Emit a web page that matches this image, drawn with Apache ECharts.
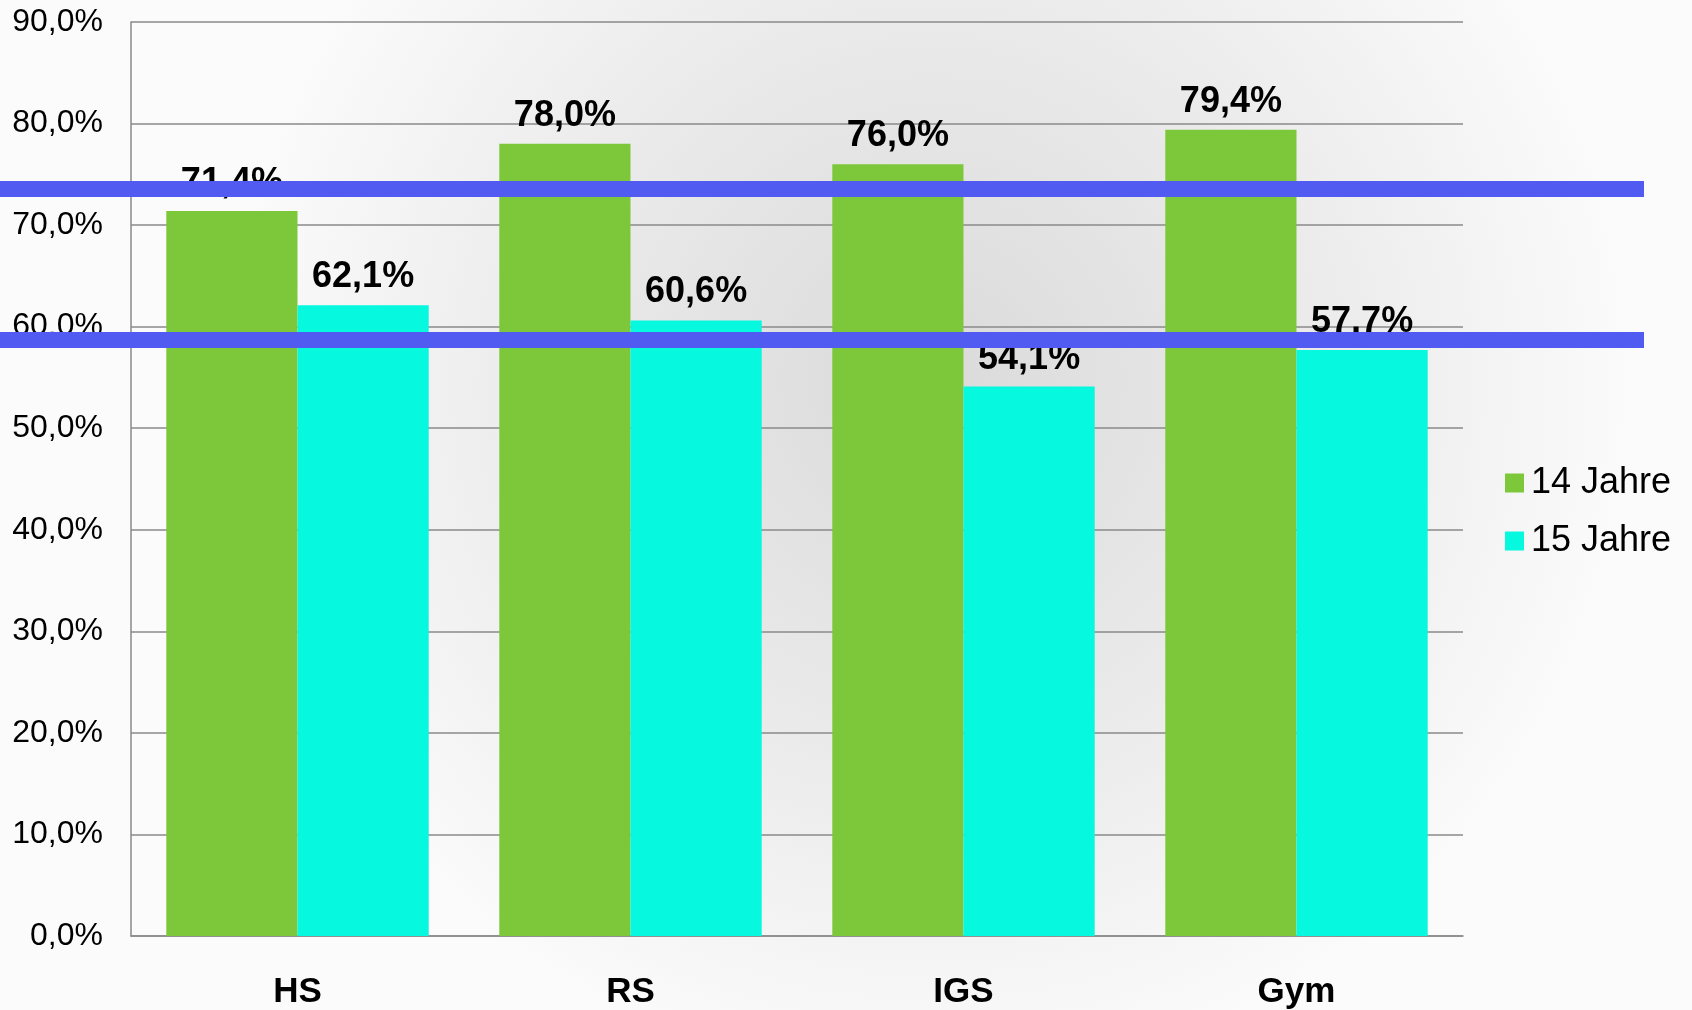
<!DOCTYPE html>
<html>
<head>
<meta charset="utf-8">
<style>
  html, body { margin: 0; padding: 0; background: #fafafa; }
  #chart { width: 1692px; height: 1010px; }
</style>
<script src="https://cdn.jsdelivr.net/npm/echarts@6/dist/echarts.min.js"></script>
</head>
<body>
<div id="chart"></div>
<script>
const categories = ['HS', 'RS', 'IGS', 'Gym']
const seriesNames = ['14 Jahre', '15 Jahre']
const values14 = [71.4, 78.0, 76.0, 79.4]
const values15 = [62.1, 60.6, 54.1, 57.7]
const yTicks = [0, 10, 20, 30, 40, 50, 60, 70, 80, 90]

const fontFamily = 'Liberation Sans, Arial, sans-serif'
const pct = v => v.toFixed(1).replace('.', ',') + '%'

const chart = echarts.init(document.getElementById('chart'))

const barLabel = {
  show: true,
  position: 'top',
  distance: 10,
  color: '#000',
  fontSize: 36,
  fontWeight: 'bold',
  fontFamily: fontFamily,
  formatter: p => pct(p.value)
}

chart.setOption({
  animation: false,
  backgroundColor: {
    type: 'radial',
    x: 0.55, y: 0.38, r: 0.7,
    colorStops: [
      { offset: 0, color: '#dadada' },
      { offset: 0.55, color: '#ebebeb' },
      { offset: 1, color: '#fbfbfb' }
    ]
  },
  grid: { left: 131, right: 229, top: 22, bottom: 74 },
  legend: {
    data: seriesNames,
    orient: 'vertical',
    left: 1505,
    top: 465,
    padding: 0,
    icon: 'rect',
    itemWidth: 19,
    itemHeight: 19,
    itemGap: 22,
    textStyle: { fontSize: 36, color: '#000', fontFamily: fontFamily, padding: [0, 0, 0, 2] }
  },
  xAxis: {
    type: 'category',
    data: categories,
    axisLine: { lineStyle: { color: '#8a8a8a', width: 1.5 } },
    axisTick: { show: false },
    axisLabel: {
      margin: 39,
      color: '#000',
      fontSize: 35,
      fontWeight: 'bold',
      fontFamily: fontFamily
    }
  },
  yAxis: {
    type: 'value',
    min: yTicks[0],
    max: yTicks[yTicks.length - 1],
    interval: 10,
    axisLine: { show: true, lineStyle: { color: '#8a8a8a', width: 1.5 } },
    axisTick: { show: false },
    splitLine: { lineStyle: { color: '#8a8a8a', width: 1.5 } },
    axisLabel: {
      margin: 28,
      color: '#000',
      fontSize: 32,
      fontFamily: fontFamily,
      formatter: v => pct(v)
    }
  },
  series: [
    {
      name: seriesNames[0],
      type: 'bar',
      data: values14,
      barWidth: '39.4%',
      barGap: '0%',
      itemStyle: { color: '#7dc83a' },
      label: barLabel
    },
    {
      name: seriesNames[1],
      type: 'bar',
      data: values15,
      barWidth: '39.4%',
      barGap: '0%',
      itemStyle: { color: '#06f8de' },
      label: barLabel
    }
  ],
  graphic: [
    { type: 'rect', z: 100, shape: { x: 0, y: 181, width: 1644, height: 16 }, style: { fill: '#515bf2' } },
    { type: 'rect', z: 100, shape: { x: 0, y: 332, width: 1644, height: 16 }, style: { fill: '#515bf2' } }
  ]
})
</script>
</body>
</html>
